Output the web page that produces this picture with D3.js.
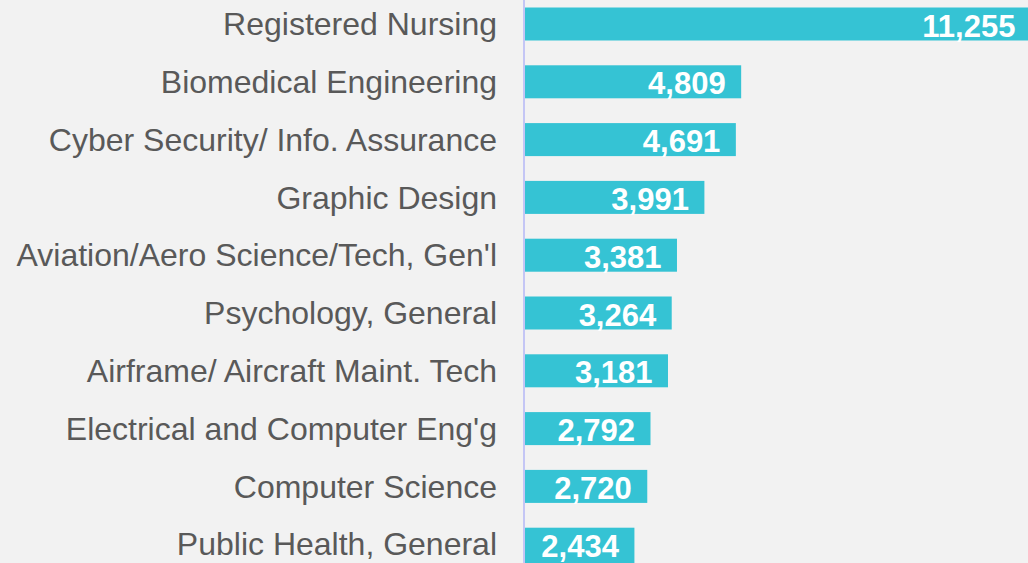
<!DOCTYPE html>
<html>
<head>
<meta charset="utf-8">
<script src="https://cdn.jsdelivr.net/npm/d3@7"></script>
<style>
  html, body { margin: 0; padding: 0; background: #f2f2f2; overflow: hidden; }
  svg { display: block; }
</style>
</head>
<body>
<svg id="chart" width="1028" height="563"></svg>
<script>
const categories = [
  "Registered Nursing",
  "Biomedical Engineering",
  "Cyber Security/ Info. Assurance",
  "Graphic Design",
  "Aviation/Aero Science/Tech, Gen'l",
  "Psychology, General",
  "Airframe/ Aircraft Maint. Tech",
  "Electrical and Computer Eng'g",
  "Computer Science",
  "Public Health, General"
];
const values = [11255, 4809, 4691, 3991, 3381, 3264, 3181, 2792, 2720, 2434];

const W = 1028, H = 563;
const svg = d3.select("#chart");
svg.append("rect").attr("width", W).attr("height", H).attr("fill", "#f2f2f2");

const axisX = 524;
const x = d3.scaleLinear().domain([0, 12000]).range([525, 525 + 539.4]);
const y = d3.scaleBand()
  .domain(categories)
  .range([-4.9, 573.1])
  .paddingInner(0.429)
  .paddingOuter(0.2145);

const fmt = d3.format(",");

svg.append("g").selectAll("rect")
  .data(values)
  .join("rect")
  .attr("x", x(0))
  .attr("y", (d, i) => y(categories[i]))
  .attr("width", d => x(d) - x(0))
  .attr("height", (d, i) => i === categories.length - 1 ? H - y(categories[i]) : y.bandwidth())
  .attr("fill", "#35c3d4");

svg.append("line")
  .attr("x1", axisX).attr("x2", axisX)
  .attr("y1", 0).attr("y2", H)
  .attr("stroke", "#c4c6f5").attr("stroke-width", 2);

svg.append("g").selectAll("text")
  .data(categories)
  .join("text")
  .attr("x", 497)
  .attr("y", d => y(d) + y.bandwidth() / 2 + 11.2)
  .attr("text-anchor", "end")
  .attr("font-family", "'Liberation Sans', Arial, sans-serif")
  .attr("font-size", 32)
  .attr("fill", "#595959")
  .text(d => d);

svg.append("g").selectAll("text")
  .data(values)
  .join("text")
  .attr("x", d => x(d) - 15.5)
  .attr("y", (d, i) => y(categories[i]) + y.bandwidth() / 2 + 12.5)
  .attr("text-anchor", "end")
  .attr("font-family", "'Liberation Sans', Arial, sans-serif")
  .attr("font-weight", "bold")
  .attr("font-size", 31)
  .attr("fill", "#ffffff")
  .text(d => fmt(d));
</script>
</body>
</html>
